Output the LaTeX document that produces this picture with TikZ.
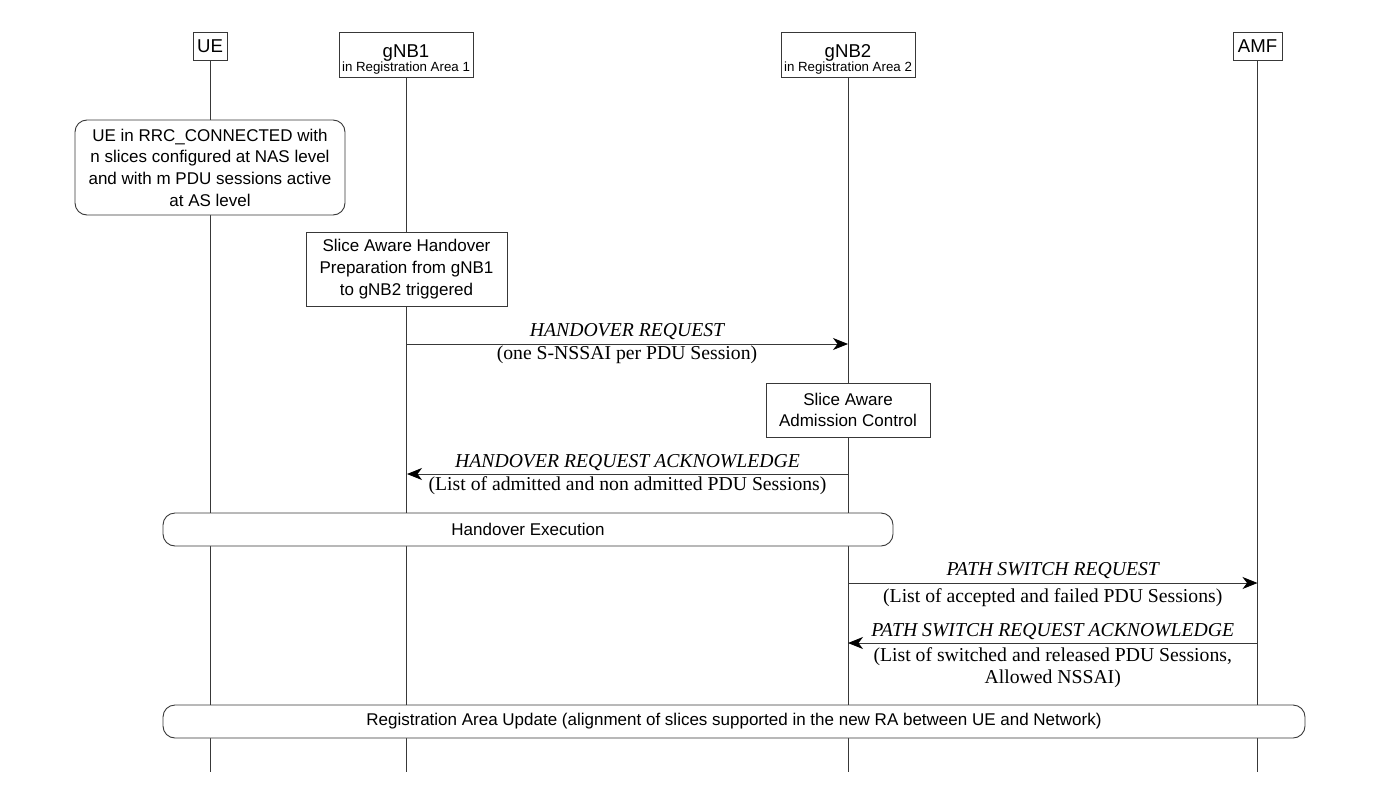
\documentclass[tikz,border=0pt]{standalone}
\usepackage{fontspec}
\setmainfont{Liberation Serif}
\setsansfont{Liberation Sans}
\usetikzlibrary{arrows.meta}
\definecolor{ln}{gray}{0.22}
\begin{document}
\begin{tikzpicture}[x=1pt,y=-1pt,
  hdrf/.style={font=\sffamily\fontsize{18.6}{22}\selectfont},
  bigf/.style={font=\sffamily\fontsize{17}{21.7}\selectfont},
  smallf/.style={font=\sffamily\fontsize{13.3}{15}\selectfont},
  box/.style={draw=ln, line width=0.9pt, fill=white, inner sep=0pt, align=center, bigf},
  hbox/.style={box, hdrf},
  rbox/.style={box, rounded corners=12pt},
  life/.style={draw=ln, line width=0.9pt},
  msg/.style={draw=ln, line width=0.9pt, -{Stealth[length=15pt,width=12pt,inset=4.5pt,fill=black,color=black]}},
  mname/.style={font=\itshape\fontsize{19.7}{23}\selectfont, inner sep=0pt, anchor=base},
  mpar/.style={font=\fontsize{19.7}{22}\selectfont, inner sep=0pt, anchor=base, align=center},
  txt/.style={inner sep=0pt, anchor=base},
]
\useasboundingbox (0,0) rectangle (1380,787);

% header boxes
\node[hbox, minimum width=34, minimum height=28, anchor=north] (ue) at (210,32) {UE};
\node[hbox, minimum width=134, minimum height=45, anchor=north] (g1) at (406,32) {};
\node[txt, hdrf] (g1t) at (406,57) {gNB1};
\node[txt, smallf] (g1s) at (406,71) {in Registration Area 1};
\node[hbox, minimum width=134, minimum height=45, anchor=north] (g2) at (848,32) {};
\node[txt, hdrf] (g2t) at (848,57) {gNB2};
\node[txt, smallf] (g2s) at (848,71) {in Registration Area 2};
\node[hbox, minimum width=49, minimum height=28, anchor=north] (amf) at (1257.5,32) {AMF};

% lifeline ends
\coordinate (ueE) at (210,772);
\coordinate (g1E) at (406,772);
\coordinate (g2E) at (848,772);
\coordinate (amfE) at (1257.5,772);
\draw[life] (ue.south) -- (ueE);
\draw[life] (g1.south) -- (g1E);
\draw[life] (g2.south) -- (g2E);
\draw[life] (amf.south) -- (amfE);

% state boxes
\node[rbox, minimum width=270, minimum height=95] (rrc) at (210,167.5)
  {UE in RRC\_CONNECTED with\\n slices configured at NAS level\\and with m PDU sessions active\\at AS level};
\node[box, minimum width=201, minimum height=74] (prep) at (406.5,269)
  {Slice Aware Handover\\Preparation from gNB1\\to gNB2 triggered};
\node[box, minimum width=164, minimum height=54] (adm) at (848,410)
  {Slice Aware\\Admission Control};
\node[rbox, minimum width=730, minimum height=33] (hoe) at (528,529.5) {Handover Execution};
\node[rbox, minimum width=1142, minimum height=33] (rau) at (734,721.5)
  {Registration Area Update (alignment of slices supported in the new RA between UE and Network)};

% messages
\coordinate (m1a) at (406,344);  \coordinate (m1b) at (848,344);
\coordinate (m2a) at (848,474);  \coordinate (m2b) at (407,474);
\coordinate (m3a) at (848,583);  \coordinate (m3b) at (1257.5,583);
\coordinate (m4a) at (1257.5,643); \coordinate (m4b) at (848,643);

\draw[msg] (m1a) -- (m1b)
  node[mname, midway, yshift=8pt] (m1n) {HANDOVER REQUEST}
  node[mpar, midway, yshift=-15pt] (m1p) {(one S-NSSAI per PDU Session)};
\draw[msg] (m2a) -- (m2b)
  node[mname, midway, yshift=7pt] (m2n) {HANDOVER REQUEST ACKNOWLEDGE}
  node[mpar, midway, yshift=-16pt] (m2p) {(List of admitted and non admitted PDU Sessions)};
\draw[msg] (m3a) -- (m3b)
  node[mname, midway, yshift=8pt] (m3n) {PATH SWITCH REQUEST}
  node[mpar, midway, yshift=-19pt] (m3p) {(List of accepted and failed PDU Sessions)};
\draw[msg] (m4a) -- (m4b)
  node[mname, midway, yshift=7pt] (m4n) {PATH SWITCH REQUEST ACKNOWLEDGE}
  node[mpar, midway, anchor=north, yshift=-4pt] (m4p) {(List of switched and released PDU Sessions,\\Allowed NSSAI)};
\end{tikzpicture}
\end{document}
